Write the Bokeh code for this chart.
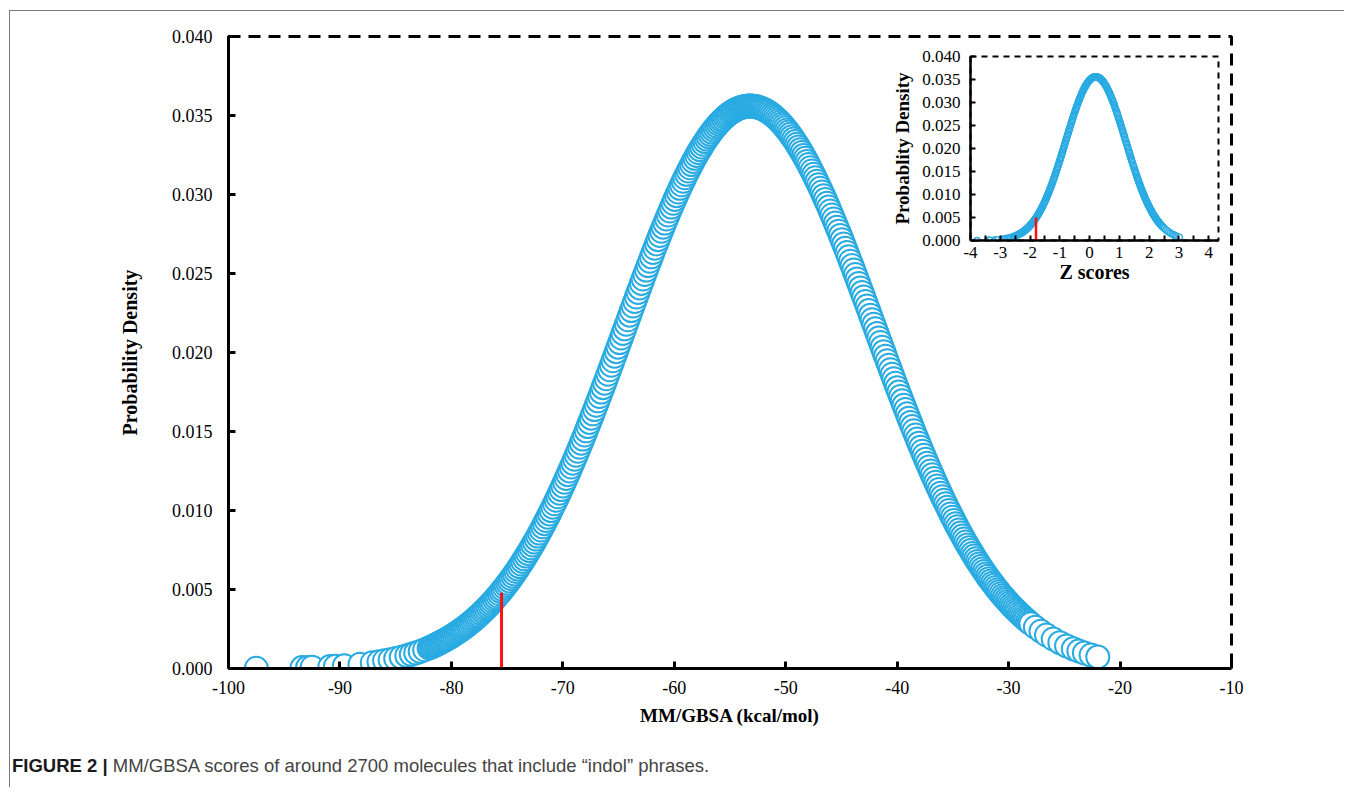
from bokeh.plotting import figure
from bokeh.models import Range1d, GridBox, Div, PrintfTickFormatter, FixedTicker
from bokeh.embed import file_html
from bokeh.resources import INLINE

# ---------------- data ----------------
# MM/GBSA scores (kcal/mol) of the plotted molecules, first batch (sorted)
SCORES_A = [
    -97.5, -93.4, -92.9, -92.5, -90.9, -90.4, -89.6, -88.2, -87.1, -86.5,
    -86.0, -85.5, -85.0, -84.5, -84.0, -83.6, -83.2, -82.8, -82.4,
    -82.0, -81.7, -81.4, -81.1, -80.8, -80.5, -80.2, -79.9, -79.6, -79.3,
    -79.0, -78.7, -78.4, -78.1, -77.8, -77.5, -77.2, -76.9, -76.6, -76.3,
    -76.0, -75.7, -75.4, -75.1, -74.8, -74.5, -74.2, -73.9, -73.6, -73.3,
    -73.0, -72.7, -72.4, -72.1, -71.8, -71.5, -71.2, -70.9, -70.6, -70.3,
    -70.0, -69.7, -69.4, -69.1, -68.8, -68.5, -68.2, -67.9, -67.6, -67.3,
    -67.0, -66.7, -66.4, -66.1, -65.8, -65.5, -65.2, -64.9, -64.6, -64.3,
    -64.0, -63.7, -63.4, -63.1, -62.8, -62.5, -62.2, -61.9, -61.6, -61.3,
    -61.0, -60.7, -60.4, -60.1, -59.8, -59.5, -59.2, -58.9, -58.6, -58.3,
    -58.0, -57.7, -57.4, -57.1, -56.8, -56.5, -56.2, -55.9, -55.6, -55.3,
    -55.0, -54.7, -54.4, -54.1, -53.8, -53.5, -53.2, -52.9, -52.6, -52.3,
    -52.0, -51.7, -51.4, -51.1, -50.8, -50.5, -50.2, -49.9, -49.6, -49.3,
    -49.0, -48.7, -48.4, -48.1, -47.8, -47.5, -47.2, -46.9, -46.6, -46.3,
    -46.0, -45.7, -45.4, -45.1, -44.8, -44.5, -44.2, -43.9, -43.6, -43.3,
    -43.0, -42.7, -42.4, -42.1, -41.8, -41.5, -41.2, -40.9, -40.6, -40.3,
    -40.0, -39.7, -39.4, -39.1, -38.8, -38.5, -38.2, -37.9, -37.6, -37.3,
    -37.0, -36.7, -36.4, -36.1, -35.8, -35.5, -35.2, -34.9, -34.6, -34.3,
    -34.0, -33.7, -33.4, -33.1, -32.8, -32.5, -32.2, -31.9, -31.6, -31.3,
    -31.0, -30.7, -30.4, -30.1, -29.8, -29.5, -29.2, -28.9, -28.6, -28.3,
    -28.0,
    -27.6, -27.1, -26.6, -26.0, -25.4, -24.8, -24.2, -23.7, -23.2, -22.6,
    -22.0,
]
# probability density of each molecule of the first batch
DENS_A = [
    0.000014, 0.000057, 0.000067, 0.000076, 0.000123, 0.000143, 0.000181, 0.000270, 0.000365, 0.000428,
    0.000489, 0.000556, 0.000632, 0.000717, 0.000812, 0.000895, 0.000985, 0.001083, 0.001189,
    0.001305, 0.001398, 0.001496, 0.001600, 0.001709, 0.001825, 0.001947, 0.002077, 0.002213, 0.002356,
    0.002507, 0.002665, 0.002832, 0.003007, 0.003191, 0.003383, 0.003584, 0.003794, 0.004014, 0.004243,
    0.004482, 0.004732, 0.004992, 0.005262, 0.005543, 0.005835, 0.006138, 0.006452, 0.006777, 0.007113,
    0.007461, 0.007820, 0.008190, 0.008572, 0.008966, 0.009370, 0.009785, 0.010212, 0.010650, 0.011099,
    0.011558, 0.012027, 0.012507, 0.012996, 0.013495, 0.014002, 0.014519, 0.015045, 0.015577, 0.016118,
    0.016664, 0.017217, 0.017775, 0.018339, 0.018907, 0.019478, 0.020052, 0.020630, 0.021207, 0.021786,
    0.022364, 0.022941, 0.023515, 0.024087, 0.024655, 0.025219, 0.025777, 0.026328, 0.026872, 0.027408,
    0.027934, 0.028450, 0.028954, 0.029447, 0.029926, 0.030391, 0.030841, 0.031276, 0.031694, 0.032094,
    0.032476, 0.032839, 0.033183, 0.033506, 0.033808, 0.034088, 0.034345, 0.034580, 0.034792, 0.034980,
    0.035143, 0.035282, 0.035396, 0.035485, 0.035549, 0.035587, 0.035600, 0.035587, 0.035549, 0.035485,
    0.035396, 0.035282, 0.035143, 0.034980, 0.034792, 0.034580, 0.034345, 0.034088, 0.033808, 0.033506,
    0.033183, 0.032839, 0.032476, 0.032094, 0.031694, 0.031276, 0.030841, 0.030391, 0.029926, 0.029447,
    0.028954, 0.028450, 0.027934, 0.027408, 0.026872, 0.026328, 0.025777, 0.025219, 0.024655, 0.024087,
    0.023515, 0.022941, 0.022364, 0.021786, 0.021207, 0.020630, 0.020052, 0.019478, 0.018907, 0.018339,
    0.017775, 0.017217, 0.016664, 0.016118, 0.015577, 0.015045, 0.014519, 0.014002, 0.013495, 0.012996,
    0.012507, 0.012027, 0.011558, 0.011099, 0.010650, 0.010212, 0.009785, 0.009370, 0.008966, 0.008572,
    0.008190, 0.007820, 0.007461, 0.007113, 0.006777, 0.006452, 0.006138, 0.005835, 0.005543, 0.005262,
    0.004992, 0.004732, 0.004482, 0.004243, 0.004014, 0.003794, 0.003584, 0.003383, 0.003191, 0.003007,
    0.002832,
    0.002613, 0.002356, 0.002121, 0.001865, 0.001636, 0.001429, 0.001246, 0.001109, 0.000985, 0.000852,
    0.000735,
]

# second batch of molecules (scores between those of the first batch)
SCORES_B = [
    -81.85, -81.55, -81.25, -80.95, -80.65, -80.35, -80.05, -79.75, -79.45, -79.15,
    -78.85, -78.55, -78.25, -77.95, -77.65, -77.35, -77.05, -76.75, -76.45, -76.15,
    -75.85, -75.55, -75.25, -74.95, -74.65, -74.35, -74.05, -73.75, -73.45, -73.15,
    -72.85, -72.55, -72.25, -71.95, -71.65, -71.35, -71.05, -70.75, -70.45, -70.15,
    -69.85, -69.55, -69.25, -68.95, -68.65, -68.35, -68.05, -67.75, -67.45, -67.15,
    -66.85, -66.55, -66.25, -65.95, -65.65, -65.35, -65.05, -64.75, -64.45, -64.15,
    -63.85, -63.55, -63.25, -62.95, -62.65, -62.35, -62.05, -61.75, -61.45, -61.15,
    -60.85, -60.55, -60.25, -59.95, -59.65, -59.35, -59.05, -58.75, -58.45, -58.15,
    -57.85, -57.55, -57.25, -56.95, -56.65, -56.35, -56.05, -55.75, -55.45, -55.15,
    -54.85, -54.55, -54.25, -53.95, -53.65, -53.35, -53.05, -52.75, -52.45, -52.15,
    -51.85, -51.55, -51.25, -50.95, -50.65, -50.35, -50.05, -49.75, -49.45, -49.15,
    -48.85, -48.55, -48.25, -47.95, -47.65, -47.35, -47.05, -46.75, -46.45, -46.15,
    -45.85, -45.55, -45.25, -44.95, -44.65, -44.35, -44.05, -43.75, -43.45, -43.15,
    -42.85, -42.55, -42.25, -41.95, -41.65, -41.35, -41.05, -40.75, -40.45, -40.15,
    -39.85, -39.55, -39.25, -38.95, -38.65, -38.35, -38.05, -37.75, -37.45, -37.15,
    -36.85, -36.55, -36.25, -35.95, -35.65, -35.35, -35.05, -34.75, -34.45, -34.15,
    -33.85, -33.55, -33.25, -32.95, -32.65, -32.35, -32.05, -31.75, -31.45, -31.15,
    -30.85, -30.55, -30.25, -29.95, -29.65, -29.35, -29.05, -28.75, -28.45, -28.15,
]
DENS_B = [
    0.001351, 0.001446, 0.001547, 0.001654, 0.001766, 0.001885, 0.002011, 0.002144, 0.002283, 0.002431,
    0.002585, 0.002748, 0.002918, 0.003098, 0.003286, 0.003482, 0.003687, 0.003903, 0.004127, 0.004362,
    0.004606, 0.004861, 0.005126, 0.005402, 0.005687, 0.005985, 0.006293, 0.006613, 0.006943, 0.007286,
    0.007639, 0.008004, 0.008380, 0.008768, 0.009166, 0.009576, 0.009997, 0.010430, 0.010873, 0.011326,
    0.011791, 0.012266, 0.012751, 0.013245, 0.013748, 0.014260, 0.014780, 0.015310, 0.015846, 0.016390,
    0.016940, 0.017496, 0.018057, 0.018623, 0.019192, 0.019765, 0.020340, 0.020918, 0.021496, 0.022075,
    0.022653, 0.023229, 0.023801, 0.024372, 0.024938, 0.025499, 0.026053, 0.026601, 0.027141, 0.027672,
    0.028193, 0.028704, 0.029202, 0.029688, 0.030160, 0.030618, 0.031060, 0.031487, 0.031896, 0.032287,
    0.032661, 0.033014, 0.033347, 0.033659, 0.033950, 0.034219, 0.034466, 0.034689, 0.034889, 0.035065,
    0.035216, 0.035342, 0.035444, 0.035520, 0.035571, 0.035597, 0.035597, 0.035571, 0.035520, 0.035444,
    0.035342, 0.035216, 0.035065, 0.034889, 0.034689, 0.034466, 0.034219, 0.033950, 0.033659, 0.033347,
    0.033014, 0.032661, 0.032287, 0.031896, 0.031487, 0.031060, 0.030618, 0.030160, 0.029688, 0.029202,
    0.028704, 0.028193, 0.027672, 0.027141, 0.026601, 0.026053, 0.025499, 0.024938, 0.024372, 0.023801,
    0.023229, 0.022653, 0.022075, 0.021496, 0.020918, 0.020340, 0.019765, 0.019192, 0.018623, 0.018057,
    0.017496, 0.016940, 0.016390, 0.015846, 0.015310, 0.014780, 0.014260, 0.013748, 0.013245, 0.012751,
    0.012266, 0.011791, 0.011326, 0.010873, 0.010430, 0.009997, 0.009576, 0.009166, 0.008768, 0.008380,
    0.008004, 0.007639, 0.007286, 0.006943, 0.006613, 0.006293, 0.005985, 0.005687, 0.005402, 0.005126,
    0.004861, 0.004606, 0.004362, 0.004127, 0.003903, 0.003687, 0.003482, 0.003286, 0.003098, 0.002918,
]

# mean and standard deviation of the scores (z = (score - mean) / sd)
SCORE_MEAN = -55.5
SCORE_SD = 11.1

# red cut-off markers
CUTOFF_SCORE = -75.5
CUTOFF_DENSITY = 0.0048
CUTOFF_Z = -1.8
CUTOFF_Z_DENSITY = 0.005

X_TICKS = [-100, -90, -80, -70, -60, -50, -40, -30, -20, -10]
Y_TICKS = [0.0, 0.005, 0.01, 0.015, 0.02, 0.025, 0.03, 0.035, 0.04]
Z_TICKS = [-4, -3, -2, -1, 0, 1, 2, 3, 4]
Z_MINOR = [-3.5, -2.5, -1.5, -0.5, 0.5, 1.5, 2.5, 3.5]

X_TITLE = "MM/GBSA (kcal/mol)"
Y_TITLE = "Probability Density"
INSET_X_TITLE = "Z scores"
INSET_Y_TITLE = "Probablity Density"
CAPTION_BOLD = "FIGURE 2 |"
CAPTION_TEXT = "MM/GBSA scores of around 2700 molecules that include \u201cindol\u201d phrases."

# combine the batches, ordered by score
pairs = sorted(zip(SCORES_A + SCORES_B, DENS_A + DENS_B))
scores = [s for s, _ in pairs]
density = [d for _, d in pairs]
zscores = [(s - SCORE_MEAN) / SCORE_SD for s in scores]

# ---------------- styling ----------------
SERIF = "Liberation Serif"
SANS = "Liberation Sans"
BLUE = "#29ABE2"
NAVY = "#1F3B73"
RED = "#FF1010"

W, H = 1334, 731
FL, FR, FT, FB = 218, 1221, 25, 657   # main frame in figure pixels

main = figure(width=W, height=H, x_range=Range1d(-100, -10), y_range=Range1d(0, 0.04),
              output_backend="svg", toolbar_location=None,
              min_border_left=FL, min_border_right=W - FR, min_border_top=FT,
              min_border_bottom=H - FB)
main.grid.visible = False
main.background_fill_color = "white"
main.border_fill_color = "white"
main.outline_line_color = "black"
main.outline_line_width = 3
main.outline_line_dash = "12 8"

for ax in (main.xaxis[0], main.yaxis[0]):
    ax.axis_line_width = 3
    ax.major_tick_line_width = 3
    ax.major_tick_in = 7
    ax.major_tick_out = 0
    ax.minor_tick_line_color = None
    ax.major_label_text_font = SERIF
    ax.major_label_text_font_size = "18px"
    ax.major_label_text_color = "black"
    ax.axis_label_text_font = SERIF
    ax.axis_label_text_font_style = "bold"
    ax.axis_label_text_font_size = "19px"
    ax.axis_label_text_color = "black"

main.xaxis.ticker = FixedTicker(ticks=X_TICKS)
main.xaxis.formatter = PrintfTickFormatter(format="%d")
main.xaxis.axis_label = X_TITLE
main.xaxis.major_label_standoff = 12
main.xaxis.axis_label_standoff = 8
main.yaxis.ticker = FixedTicker(ticks=Y_TICKS)
main.yaxis.formatter = PrintfTickFormatter(format="%.3f")
main.yaxis.axis_label = Y_TITLE
main.yaxis.axis_label_text_font_size = "20px"
main.yaxis.major_label_standoff = 16
main.yaxis.axis_label_standoff = 28

main.line(scores, density, line_color=NAVY, line_width=1.5)
main.scatter(scores, density, marker="circle", size=23, fill_color="white",
             line_color=BLUE, line_width=2)
main.segment(x0=[CUTOFF_SCORE], y0=[0], x1=[CUTOFF_SCORE], y1=[CUTOFF_DENSITY],
             line_color=RED, line_width=3)

# ---------------- inset ----------------
IW, IH = 349, 244
inset = figure(width=IW, height=IH, x_range=Range1d(-4, 4.33), y_range=Range1d(0, 0.04),
               output_backend="svg", toolbar_location=None,
               min_border_left=95, min_border_right=6, min_border_top=10, min_border_bottom=50)
inset.grid.visible = False
inset.background_fill_alpha = 0
inset.border_fill_alpha = 0
inset.outline_line_color = "black"
inset.outline_line_width = 2
inset.outline_line_dash = "6 5"
for ax in (inset.xaxis[0], inset.yaxis[0]):
    ax.axis_line_width = 2.5
    ax.major_tick_line_width = 2
    ax.minor_tick_line_width = 2
    ax.major_tick_in = 5
    ax.major_tick_out = 0
    ax.minor_tick_in = 5
    ax.minor_tick_out = 0
    ax.major_label_text_font = SERIF
    ax.major_label_text_font_size = "17px"
    ax.major_label_text_color = "black"
    ax.axis_label_text_font = SERIF
    ax.axis_label_text_font_style = "bold"
    ax.axis_label_text_color = "black"
inset.xaxis.ticker = FixedTicker(ticks=Z_TICKS, minor_ticks=Z_MINOR)
inset.xaxis.formatter = PrintfTickFormatter(format="%d")
inset.xaxis.axis_label = INSET_X_TITLE
inset.xaxis.axis_label_text_font_size = "20px"
inset.xaxis.major_label_standoff = 6
inset.xaxis.axis_label_standoff = 0
inset.yaxis.ticker = FixedTicker(ticks=Y_TICKS)
inset.yaxis.minor_tick_line_color = None
inset.yaxis.formatter = PrintfTickFormatter(format="%.3f")
inset.yaxis.axis_label = INSET_Y_TITLE
inset.yaxis.axis_label_text_font_size = "19px"
inset.yaxis.major_label_standoff = 10
inset.yaxis.axis_label_standoff = 6

inset.line(zscores, density, line_color=NAVY, line_width=1.2)
inset.scatter(zscores, density, marker="circle", size=6, fill_color="white",
              line_color=BLUE, line_width=1.4)
inset.segment(x0=[CUTOFF_Z], y0=[0], x1=[CUTOFF_Z], y1=[CUTOFF_Z_DENSITY],
              line_color=RED, line_width=2.5)

# ---------------- caption ----------------
CAP_H = 45
caption = Div(text=f'<span style="font-weight:bold;color:#1a1a1a">{CAPTION_BOLD}</span> {CAPTION_TEXT}',
              width=W, height=CAP_H,
              styles={"font-family": SANS, "font-size": "18.5px", "color": "#444444",
                      "padding-left": "0px", "padding-top": "6px", "white-space": "nowrap",
                      "text-indent": "-3px"})

# ---------------- overlay inset on main via grid ----------------
C0, R0 = 865, 35
grid = GridBox(children=[(main, 0, 0, 3, 3), (inset, 1, 1, 1, 1), (caption, 3, 0, 1, 3)],
               cols=[f"{C0}px", f"{IW}px", f"{W - C0 - IW}px"],
               rows=[f"{R0}px", f"{IH}px", f"{H - R0 - IH}px", f"{CAP_H}px"],
               styles={"border-top": "1px solid #7a7a7a", "border-left": "1px solid #7a7a7a",
                       "margin-left": "9px", "margin-top": "10px"})

open("out.html", "w").write(file_html(grid, INLINE))
